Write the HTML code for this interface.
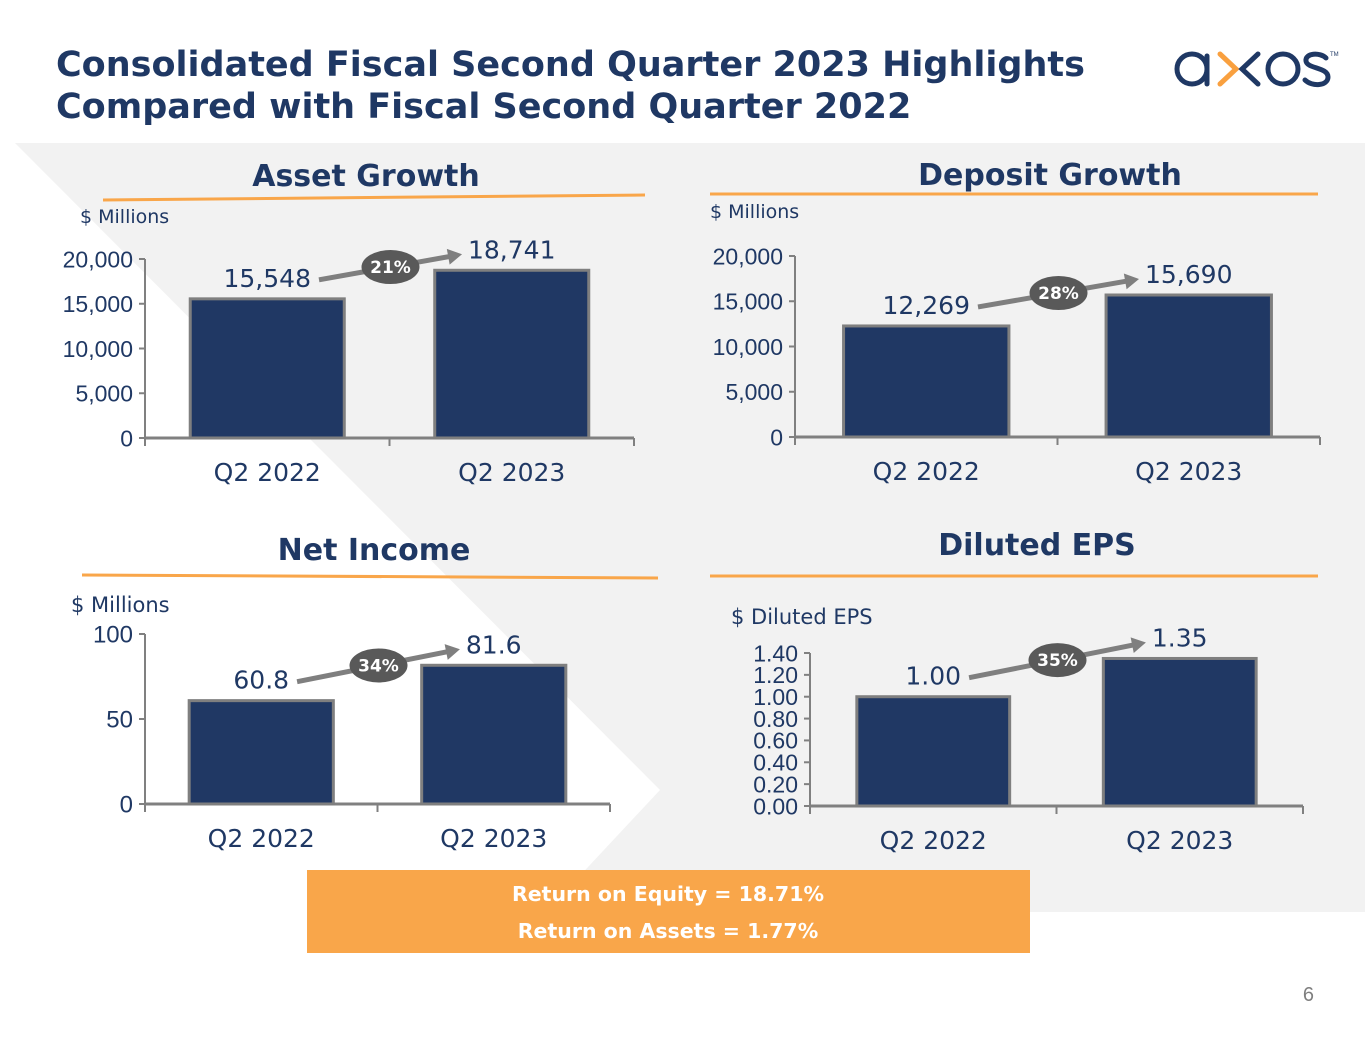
<!DOCTYPE html>
<html><head><meta charset="utf-8"><style>
body{margin:0;width:1365px;height:1055px;background:#fff;overflow:hidden;font-family:"Liberation Sans","DejaVu Sans",sans-serif;}
svg{position:absolute;left:0;top:0}
</style></head><body>
<svg id="s" width="1365" height="1055">
<polygon points="15,143 1365,143 1365,912 546,912 660,790" fill="#f2f2f2"/>
<text x="56" y="76" font-size="35" font-weight="bold" fill="#1f3864" font-family="DejaVu Sans,sans-serif">Consolidated Fiscal Second Quarter 2023 Highlights</text>
<text x="56" y="118" font-size="35" font-weight="bold" fill="#1f3864" font-family="DejaVu Sans,sans-serif">Compared with Fiscal Second Quarter 2022</text>
<g fill="none" stroke-width="5" stroke-linecap="round">
<circle cx="1192" cy="69" r="15" stroke="#1f3864"/><line x1="1207" y1="56" x2="1207" y2="84" stroke="#1f3864"/>
<polyline points="1220,54 1236,69 1220,84" stroke="#f9a03f"/><polyline points="1258,54 1242,69 1258,84" stroke="#1f3864"/>
<circle cx="1283" cy="69" r="15" stroke="#1f3864"/>
<path d="M1326,58 C1320,52 1305,53 1306,61 C1307,69 1328,67 1328,77 C1328,86 1312,87 1305,80" stroke="#1f3864"/>
<text x="1330" y="56" font-size="6" fill="#1f3864" stroke="none">TM</text></g>
<rect x="307" y="870" width="723" height="83" fill="#f9a64a"/>
<text x="668" y="901" text-anchor="middle" font-size="20.5" font-weight="bold" fill="#fff" font-family="DejaVu Sans,sans-serif">Return on Equity = 18.71%</text>
<text x="668" y="938" text-anchor="middle" font-size="20.5" font-weight="bold" fill="#fff" font-family="DejaVu Sans,sans-serif">Return on Assets = 1.77%</text>
<text x="1314" y="1001" text-anchor="end" font-size="20" fill="#7f7f7f">6</text>
</svg>
<script>
const categories=["Q2 2022","Q2 2023"];
const assetValues=[15548,18741];
const assetLabels=["15,548","18,741"];
const assetTicks=["0","5,000","10,000","15,000","20,000"];
const depositValues=[12269,15690];
const depositLabels=["12,269","15,690"];
const depositTicks=["0","5,000","10,000","15,000","20,000"];
const incomeValues=[60.8,81.6];
const incomeLabels=["60.8","81.6"];
const incomeTicks=["0","50","100"];
const epsValues=[1.00,1.35];
const epsLabels=["1.00","1.35"];
const epsTicks=["0.00","0.20","0.40","0.60","0.80","1.00","1.20","1.40"];
const growthLabels=["21%","28%","34%","35%"];
const NS="http://www.w3.org/2000/svg",S=document.getElementById('s');
function mk(t,a,p){const e=document.createElementNS(NS,t);for(const k in a)e.setAttribute(k,a[k]);(p||S).appendChild(e);return e;}
function chart(c){
 const g=mk('g',{});
 
 
 const t=mk('text',{x:c.titleX,y:c.titleY,'text-anchor':'middle','font-size':30,'font-weight':'bold',fill:'#1f3864','font-family':'DejaVu Sans,sans-serif'},g);t.textContent=c.title;
 
 
 const ul=mk('line',{x1:c.ul[0],y1:c.ul[1],x2:c.ul[2],y2:c.ul[3],stroke:'#f9a64a','stroke-width':3},g);
 
 
 const u=mk('text',{x:c.unitX,y:c.unitY,'font-size':c.unitSize,fill:'#1f3864','font-family':'DejaVu Sans,sans-serif'},g);u.textContent=c.unit;
 
 
 const yS=v=>c.y0-(v/c.max)*(c.y0-c.yTop);
 const n=c.ticks.length;
 mk('line',{x1:c.ax,y1:c.y0,x2:c.ax,y2:c.yTop,stroke:'#808080','stroke-width':2},g);
 for(let i=0;i<n;i++){const v=c.max*i/(n-1),y=yS(v);
  mk('line',{x1:c.ax-6,y1:y,x2:c.ax,y2:y,stroke:'#808080','stroke-width':2},g);
  const tx=mk('text',{x:c.ax-12,y:y+c.tickSize*0.36,'text-anchor':'end','font-size':c.tickSize,fill:'#1f3864'},g);tx.textContent=c.ticks[i];
  
  }
 mk('line',{x1:c.ax,y1:c.y0,x2:c.xEnd,y2:c.y0,stroke:'#808080','stroke-width':3},g);
 const w=(c.xEnd-c.ax)/categories.length;
 for(let i=0;i<=categories.length;i++)mk('line',{x1:c.ax+w*i,y1:c.y0,x2:c.ax+w*i,y2:c.y0+8,stroke:'#808080','stroke-width':2},g);
 const tops=[],lbls=[];
 c.values.forEach((v,i)=>{const cx=c.ax+w*(i+0.5),bw=w*c.bf,y=yS(v);tops.push([cx,y]);
  const r=mk('rect',{x:cx-bw/2,y:y,width:bw,height:c.y0-y,fill:'#203864',stroke:'#7f7f7f','stroke-width':3},g);
  
  
  const lb=mk('text',{x:cx,y:y-12,'text-anchor':'middle','font-size':25,fill:'#1f3864','font-family':'DejaVu Sans,sans-serif'},g);lb.textContent=c.labels[i];
  
  
  lbls.push(lb);
  const xl=mk('text',{x:cx,y:c.y0+43,'text-anchor':'middle','font-size':25,fill:'#1f3864','font-family':'DejaVu Sans,sans-serif'},g);xl.textContent=categories[i];
  
  });
 const hw=lbls.map(l=>l.getComputedTextLength()/2);
 const a=[tops[0][0]+hw[0]+8,tops[0][1]-19],b=[tops[1][0]-hw[1]-6,tops[1][1]-16];
 const ang=Math.atan2(b[1]-a[1],b[0]-a[0]);
 mk('line',{x1:a[0],y1:a[1],x2:b[0]-Math.cos(ang)*10,y2:b[1]-Math.sin(ang)*10,stroke:'#7f7f7f','stroke-width':5},g);
 const p=(d,o)=>[b[0]+Math.cos(ang)*d-Math.sin(ang)*o,b[1]+Math.sin(ang)*d+Math.cos(ang)*o];
 const q=[p(0,0),p(-14,-8),p(-14,8)];
 mk('polygon',{points:q.map(z=>z.join(',')).join(' '),fill:'#7f7f7f'},g);
 const mx=(a[0]+b[0])/2,my=(a[1]+b[1])/2;
 const el=mk('ellipse',{cx:mx,cy:my,rx:29,ry:17,fill:'#595959'},g);
 
 
 const gt=mk('text',{x:mx,y:my+6,'text-anchor':'middle','font-size':17,'font-weight':'bold',fill:'#fff','font-family':'DejaVu Sans,sans-serif'},g);gt.textContent=c.growth;
 
 
}
chart({name:'asset-growth-chart',title:'Asset Growth',titleX:366,titleY:186,ul:[103,200,645,195],unit:'$ Millions',unitX:80,unitY:223,unitSize:19,
 values:assetValues,labels:assetLabels,ticks:assetTicks,max:20000,ax:145,y0:438,yTop:259,xEnd:634,bf:0.63,tickSize:23,growth:growthLabels[0]});
chart({name:'deposit-growth-chart',title:'Deposit Growth',titleX:1050,titleY:185,ul:[710,194,1318,194],unit:'$ Millions',unitX:710,unitY:218,unitSize:19,
 values:depositValues,labels:depositLabels,ticks:depositTicks,max:20000,ax:795,y0:437,yTop:256,xEnd:1320,bf:0.63,tickSize:23,growth:growthLabels[1]});
chart({name:'net-income-chart',title:'Net Income',titleX:374,titleY:560,ul:[82,575,658,578],unit:'$ Millions',unitX:71,unitY:612,unitSize:21,
 values:incomeValues,labels:incomeLabels,ticks:incomeTicks,max:100,ax:145,y0:804,yTop:634,xEnd:610,bf:0.62,tickSize:24,growth:growthLabels[2]});
chart({name:'diluted-eps-chart',title:'Diluted EPS',titleX:1037,titleY:555,ul:[710,576,1318,576],unit:'$ Diluted EPS',unitX:731,unitY:624,unitSize:21,
 values:epsValues,labels:epsLabels,ticks:epsTicks,max:1.4,ax:810,y0:806,yTop:653,xEnd:1303,bf:0.62,tickSize:23,growth:growthLabels[3]});
</script>
</body></html>
